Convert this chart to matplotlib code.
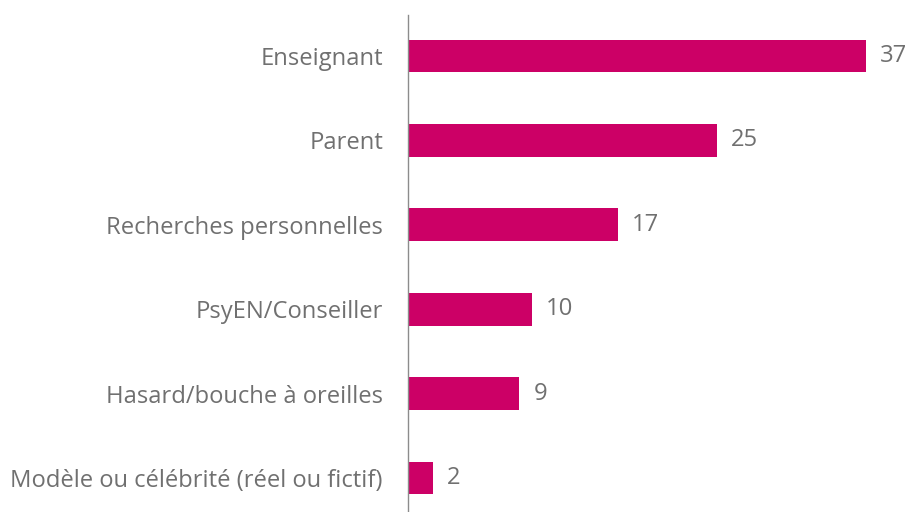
import matplotlib
matplotlib.use("Agg")
import matplotlib.pyplot as plt

categories = ["Enseignant", "Parent", "Recherches personnelles", "PsyEN/Conseiller",
              "Hasard/bouche à oreilles", "Modèle ou célébrité (réel ou fictif)"]
values = [37, 25, 17, 10, 9, 2]

W, H = 909, 512
fig = plt.figure(figsize=(W/100, H/100), dpi=100)
ax_left, ax_right = 408, 866
ax_top, ax_bot = 14.7, 512
ax = fig.add_axes([ax_left/W, (H-ax_bot)/H, (ax_right-ax_left)/W, (ax_bot-ax_top)/H])

bar_color = "#CC0066"
text_color = "#707070"
font = "Open Sans"
fs = 17.1

pos = list(range(len(categories)))
ax.barh(pos, values, height=0.39, color=bar_color)
ax.set_xlim(0, 37)
ax.set_ylim((512-56)/84.4, -(56-14.7)/84.4)

for p, v in zip(pos, values):
    ax.annotate(f"{v}", xy=(v, p), xytext=(10, 0), textcoords="offset points",
                va="center", ha="left", fontsize=fs, color=text_color,
                family=font, annotation_clip=False)

ax.set_yticks(pos)
ax.set_yticklabels(categories, fontsize=fs, color=text_color, family=font)
ax.tick_params(axis="y", length=0, pad=18)
ax.set_xticks([])
for s in ["top", "right", "bottom"]:
    ax.spines[s].set_visible(False)
ax.spines["left"].set_color("#8C8C8C")
ax.spines["left"].set_linewidth(1.0)

fig.savefig("out.png", dpi=100)
